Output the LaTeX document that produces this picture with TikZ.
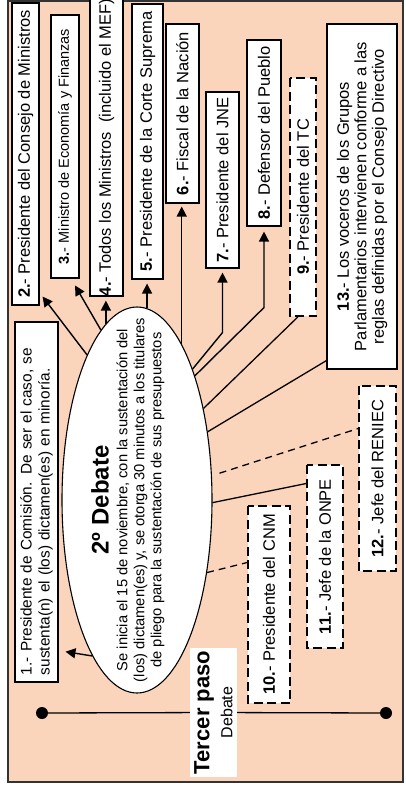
\documentclass[tikz,border=0pt]{standalone}
\usepackage{fontspec}
\setmainfont{Liberation Sans}
\usetikzlibrary{arrows.meta,shapes,positioning,calc}
\usepackage{xcolor}
\definecolor{durazno}{RGB}{250,213,188}
\newcommand{\nro}[1]{\textbf{#1.}-}

\begin{document}
\begin{tikzpicture}[x=1pt, y=-1pt,
    caja/.style={draw, fill=white, rotate=90, inner sep=0pt, align=center, line width=1.1pt, font=\fontsize{16.5}{19}\selectfont},
    cajad/.style={caja, line width=1.6pt, dash pattern=on 9pt off 4.5pt},
    flecha/.style={line width=1.4pt, -{Triangle[length=10pt,width=10pt]}},
    linea/.style={line width=1.3pt},
    punteada/.style={line width=1.3pt, dash pattern=on 7pt off 5pt},
    punto/.style={circle, fill=black, inner sep=0pt, minimum size=12pt}]
    \useasboundingbox (0,0) rectangle (406,790);
    \draw[line width=1.5pt, draw=black!80, fill=durazno] (8,1) rectangle (403,782);

    % Tercer paso
    \node[punto] (ini) at (42,713) {};
    \node[punto] (fin) at (386,713) {};
    \node[fill=white, rotate=90, minimum width=129pt, minimum height=47pt, inner sep=0pt, align=center, font=\fontsize{16}{23}\selectfont] (paso) at (213.5,712.5) {{\fontsize{22}{24}\selectfont\bfseries Tercer paso}\\Debate};
    \draw[linea] (ini) -- (paso);
    \draw[linea] (paso) -- (fin);

    % 2 Debate
    \node[ellipse, draw, fill=white, line width=1.1pt, minimum width=150pt, minimum height=386pt, inner sep=0pt] (deb) at (137,500) {};
    \node[rotate=90, font=\fontsize{24}{28}\selectfont\bfseries] (titulo) at (100,500) {2º Debate};
    \node[rotate=90, align=center, font=\fontsize{14.7}{17}\selectfont] (texto) at (140.5,500) {Se inicia el 15 de noviembre, con la sustentación del\\(los) dictamen(es) y, se otorga 30 minutos a los titulares\\de pliego para la sustentación de sus presupuestos};

    % Participantes
    \node[caja, align=left, text width=346pt, inner xsep=7pt, minimum height=43pt, font=\fontsize{15.4}{18}\selectfont] (p1) at (36.5,502) {1.- Presidente de Comisión. De ser el caso, se\\sustenta(n) el (los) dictamen(es) en minoría.};
    \node[caja, minimum width=302pt, minimum height=27pt] (p2) at (25.5,154) {\nro{2} Presidente del Consejo de Ministros};
    \node[caja, minimum width=263pt, minimum height=28pt, font=\fontsize{14.5}{17}\selectfont] (p3) at (65,146.5) {\nro{3} Ministro de Economía y Finanzas};
    \node[caja, minimum width=293pt, minimum height=33pt] (p4) at (106.5,147.5) {\nro{4} Todos los Ministros\ \ (incluido el MEF)};
    \node[caja, minimum width=275pt, minimum height=31pt] (p5) at (147.5,141.5) {\nro{5} Presidente de la Corte Suprema};
    \node[caja, minimum width=179pt, minimum height=33pt] (p6) at (182.5,113.5) {\nro{6} Fiscal de la Nación};
    \node[caja, minimum width=176pt, minimum height=33pt] (p7) at (222.5,180) {\nro{7} Presidente del JNE};
    \node[caja, minimum width=186pt, minimum height=34pt] (p8) at (264,133) {\nro{8} Defensor del Pueblo};
    \node[cajad, minimum width=238pt, minimum height=26pt] (p9) at (303,197) {\nro{9} Presidente del TC};
    \node[caja, minimum width=345pt, minimum height=70pt, font=\fontsize{16.5}{17.5}\selectfont] (p13) at (362,196.5) {\nro{13} Los voceros de los Grupos\\Parlamentarios intervienen conforme a las\\reglas definidas por el Consejo Directivo};
    \node[cajad, minimum width=185pt, minimum height=37pt] (p12) at (377.5,478.5) {\nro{12} Jefe del RENIEC};
    \node[cajad, minimum width=183pt, minimum height=36pt] (p11) at (325,556.5) {\nro{11} Jefe de la ONPE};
    \node[cajad, minimum width=197pt, minimum height=42pt] (p10) at (269,604.5) {\nro{10} Presidente del CNM};

    % Conexiones
    \coordinate (k7) at ($(p7.west)+(0,64)$);
    \coordinate (k8) at ($(p8.west)+(0,81)$);
    \draw[flecha, shorten >=7pt] (deb.254) -- ([yshift=32pt]p1.south west);
    \draw[flecha] (deb.109) -- ([xshift=3pt,yshift=9pt]p2.south west);
    \draw[flecha, shorten >=8pt] (deb.102) -- ([xshift=6pt]p3.west);
    \draw[flecha, shorten >=4pt] (deb.100) -- (deb.100 |- p4.west);
    \draw[flecha, shorten >=4pt] (deb.87) -- (deb.87 |- p5.west);
    \draw[flecha, shorten >=3pt] (deb.74) -- (deb.74 |- p6.west);
    \draw[flecha, shorten >=4pt] (deb.67) -- (k7) -- (p7.west);
    \draw[flecha, shorten >=5pt] (deb.65) -- (k8) -- (p8.west);
    \draw[linea] (deb.54) -- ([xshift=-5pt]p9.west);
    \draw[linea] (deb.44) -- ([yshift=9pt]p13.north west);
    \draw[punteada, shorten <=8pt] (deb.18) -- ([yshift=50pt]p12.north);
    \draw[linea] (deb.358) -- ([yshift=73pt]p11.north);
    \draw[punteada] (deb.314) -- ([yshift=42pt]p10.north);
\end{tikzpicture}
\end{document}
